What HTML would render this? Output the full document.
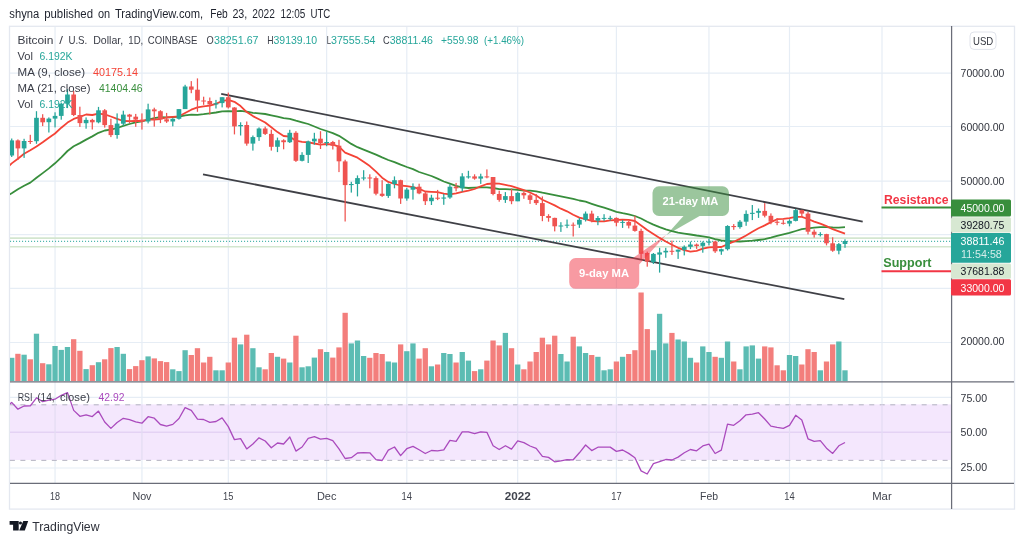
<!DOCTYPE html>
<html><head><meta charset="utf-8"><title>BTCUSD</title>
<style>
html,body{margin:0;padding:0;background:#fff;}
body{width:1024px;height:543px;overflow:hidden;position:relative;font-family:"Liberation Sans",sans-serif;}
svg{position:absolute;left:0;top:0;will-change:transform;}
text{font-family:"Liberation Sans",sans-serif;}
</style></head><body>
<svg width="1024" height="543" viewBox="0 0 1024 543">
<defs><clipPath id="cm"><rect x="10" y="27" width="941" height="354"/></clipPath>
<clipPath id="cr"><rect x="10" y="382" width="941" height="101"/></clipPath></defs>
<rect x="0" y="0" width="1024" height="543" fill="#ffffff"/>

<text x="9.3" y="18" font-size="12" fill="#1e222d" textLength="29.9" lengthAdjust="spacingAndGlyphs">shyna</text>
<text x="44.2" y="18" font-size="12" fill="#1e222d" textLength="48.8" lengthAdjust="spacingAndGlyphs">published</text>
<text x="98.0" y="18" font-size="12" fill="#1e222d" textLength="12.2" lengthAdjust="spacingAndGlyphs">on</text>
<text x="114.9" y="18" font-size="12" fill="#1e222d" textLength="88.3" lengthAdjust="spacingAndGlyphs">TradingView.com,</text>
<text x="210.2" y="18" font-size="12" fill="#1e222d" textLength="17.6" lengthAdjust="spacingAndGlyphs">Feb</text>
<text x="232.4" y="18" font-size="12" fill="#1e222d" textLength="14.9" lengthAdjust="spacingAndGlyphs">23,</text>
<text x="252.3" y="18" font-size="12" fill="#1e222d" textLength="22.6" lengthAdjust="spacingAndGlyphs">2022</text>
<text x="280.5" y="18" font-size="12" fill="#1e222d" textLength="24.9" lengthAdjust="spacingAndGlyphs">12:05</text>
<text x="310.4" y="18" font-size="12" fill="#1e222d" textLength="19.9" lengthAdjust="spacingAndGlyphs">UTC</text>
<rect x="9.5" y="26.3" width="1005" height="482.8" fill="#fff" stroke="#e4e8f0" stroke-width="1.3"/>
<g stroke="#e6edf5" stroke-width="1.2">
<line x1="55.05" y1="27" x2="55.05" y2="483"/>
<line x1="141.94" y1="27" x2="141.94" y2="483"/>
<line x1="228.30" y1="27" x2="228.30" y2="483"/>
<line x1="326.65" y1="27" x2="326.65" y2="483"/>
<line x1="406.80" y1="27" x2="406.80" y2="483"/>
<line x1="517.70" y1="27" x2="517.70" y2="483"/>
<line x1="616.40" y1="27" x2="616.40" y2="483"/>
<line x1="708.95" y1="27" x2="708.95" y2="483"/>
<line x1="789.50" y1="27" x2="789.50" y2="483"/>
<line x1="882.00" y1="27" x2="882.00" y2="483"/>
<line x1="10" y1="73.15" x2="951" y2="73.15"/>
<line x1="10" y1="126.50" x2="951" y2="126.50"/>
<line x1="10" y1="181.20" x2="951" y2="181.20"/>
<line x1="10" y1="234.70" x2="951" y2="234.70"/>
<line x1="10" y1="288.35" x2="951" y2="288.35"/>
<line x1="10" y1="342.50" x2="951" y2="342.50"/>
<line x1="10" y1="397.40" x2="951" y2="397.40"/>
<line x1="10" y1="432.20" x2="951" y2="432.20"/>
<line x1="10" y1="468.00" x2="951" y2="468.00"/>
</g>
<rect x="10" y="404.4" width="941" height="55.6" fill="#f4e7fd"/>
<line x1="9.9" y1="404.8" x2="951" y2="404.8" stroke="#b3b2c0" stroke-width="1" stroke-dasharray="5 5.48"/>
<line x1="9.9" y1="460.35" x2="951" y2="460.35" stroke="#b3b2c0" stroke-width="1" stroke-dasharray="5 5.48"/>
<line x1="10" y1="432.2" x2="951" y2="432.2" stroke="#dcc9f0" stroke-width="1"/>
<g stroke="#e3dcf3" stroke-width="1.2">
<line x1="55.05" y1="404.4" x2="55.05" y2="460.0"/>
<line x1="141.94" y1="404.4" x2="141.94" y2="460.0"/>
<line x1="228.30" y1="404.4" x2="228.30" y2="460.0"/>
<line x1="326.65" y1="404.4" x2="326.65" y2="460.0"/>
<line x1="406.80" y1="404.4" x2="406.80" y2="460.0"/>
<line x1="517.70" y1="404.4" x2="517.70" y2="460.0"/>
<line x1="616.40" y1="404.4" x2="616.40" y2="460.0"/>
<line x1="708.95" y1="404.4" x2="708.95" y2="460.0"/>
<line x1="789.50" y1="404.4" x2="789.50" y2="460.0"/>
<line x1="882.00" y1="404.4" x2="882.00" y2="460.0"/>
</g>
<g>
<line x1="10" y1="238.1" x2="951" y2="238.1" stroke="#d3e6cf" stroke-width="1.6"/>
<line x1="10" y1="246.8" x2="951" y2="246.8" stroke="#d3e6cf" stroke-width="1.6"/>
<line x1="10" y1="241.3" x2="951" y2="241.3" stroke="#26a69a" stroke-width="1" stroke-dasharray="1.1 1.9"/>
</g>
<g clip-path="url(#cm)">
<rect x="9.07" y="357.8" width="5.3" height="23.7" fill="#5cbcb3"/>
<rect x="15.26" y="353.8" width="5.3" height="27.7" fill="#f37e7c"/>
<rect x="21.45" y="354.7" width="5.3" height="26.8" fill="#5cbcb3"/>
<rect x="27.64" y="359.3" width="5.3" height="22.2" fill="#f37e7c"/>
<rect x="33.83" y="333.7" width="5.3" height="47.8" fill="#5cbcb3"/>
<rect x="40.02" y="363.2" width="5.3" height="18.3" fill="#f37e7c"/>
<rect x="46.21" y="364.3" width="5.3" height="17.2" fill="#5cbcb3"/>
<rect x="52.40" y="346.0" width="5.3" height="35.5" fill="#5cbcb3"/>
<rect x="58.61" y="349.9" width="5.3" height="31.6" fill="#5cbcb3"/>
<rect x="64.81" y="347.0" width="5.3" height="34.5" fill="#5cbcb3"/>
<rect x="71.02" y="339.2" width="5.3" height="42.3" fill="#f37e7c"/>
<rect x="77.23" y="350.8" width="5.3" height="30.7" fill="#f37e7c"/>
<rect x="83.43" y="369.1" width="5.3" height="12.4" fill="#5cbcb3"/>
<rect x="89.64" y="365.2" width="5.3" height="16.3" fill="#f37e7c"/>
<rect x="95.84" y="362.2" width="5.3" height="19.3" fill="#5cbcb3"/>
<rect x="102.05" y="359.3" width="5.3" height="22.2" fill="#f37e7c"/>
<rect x="108.26" y="348.1" width="5.3" height="33.4" fill="#f37e7c"/>
<rect x="114.46" y="347.0" width="5.3" height="34.5" fill="#5cbcb3"/>
<rect x="120.67" y="353.8" width="5.3" height="27.7" fill="#5cbcb3"/>
<rect x="126.88" y="369.1" width="5.3" height="12.4" fill="#f37e7c"/>
<rect x="133.08" y="366.1" width="5.3" height="15.4" fill="#f37e7c"/>
<rect x="139.29" y="360.2" width="5.3" height="21.3" fill="#f37e7c"/>
<rect x="145.46" y="356.4" width="5.3" height="25.1" fill="#5cbcb3"/>
<rect x="151.63" y="358.4" width="5.3" height="23.1" fill="#f37e7c"/>
<rect x="157.80" y="361.1" width="5.3" height="20.4" fill="#f37e7c"/>
<rect x="163.96" y="362.1" width="5.3" height="19.4" fill="#f37e7c"/>
<rect x="170.13" y="369.3" width="5.3" height="12.2" fill="#5cbcb3"/>
<rect x="176.30" y="371.1" width="5.3" height="10.4" fill="#5cbcb3"/>
<rect x="182.47" y="350.2" width="5.3" height="31.3" fill="#5cbcb3"/>
<rect x="188.64" y="355.0" width="5.3" height="26.5" fill="#f37e7c"/>
<rect x="194.81" y="348.2" width="5.3" height="33.3" fill="#f37e7c"/>
<rect x="200.98" y="362.5" width="5.3" height="19.0" fill="#f37e7c"/>
<rect x="207.14" y="356.8" width="5.3" height="24.7" fill="#f37e7c"/>
<rect x="213.31" y="370.3" width="5.3" height="11.2" fill="#5cbcb3"/>
<rect x="219.48" y="370.3" width="5.3" height="11.2" fill="#5cbcb3"/>
<rect x="225.65" y="362.5" width="5.3" height="19.0" fill="#f37e7c"/>
<rect x="231.80" y="337.7" width="5.3" height="43.8" fill="#f37e7c"/>
<rect x="237.94" y="344.4" width="5.3" height="37.1" fill="#5cbcb3"/>
<rect x="244.09" y="334.7" width="5.3" height="46.8" fill="#f37e7c"/>
<rect x="250.24" y="348.2" width="5.3" height="33.3" fill="#5cbcb3"/>
<rect x="256.38" y="367.3" width="5.3" height="14.2" fill="#5cbcb3"/>
<rect x="262.53" y="369.3" width="5.3" height="12.2" fill="#f37e7c"/>
<rect x="268.68" y="353.0" width="5.3" height="28.5" fill="#f37e7c"/>
<rect x="274.83" y="356.8" width="5.3" height="24.7" fill="#5cbcb3"/>
<rect x="280.97" y="358.6" width="5.3" height="22.9" fill="#f37e7c"/>
<rect x="287.12" y="362.5" width="5.3" height="19.0" fill="#5cbcb3"/>
<rect x="293.27" y="335.7" width="5.3" height="45.8" fill="#f37e7c"/>
<rect x="299.41" y="367.3" width="5.3" height="14.2" fill="#5cbcb3"/>
<rect x="305.56" y="366.3" width="5.3" height="15.2" fill="#5cbcb3"/>
<rect x="311.71" y="357.6" width="5.3" height="23.9" fill="#5cbcb3"/>
<rect x="317.85" y="349.2" width="5.3" height="32.3" fill="#f37e7c"/>
<rect x="324.00" y="352.0" width="5.3" height="29.5" fill="#5cbcb3"/>
<rect x="330.17" y="357.6" width="5.3" height="23.9" fill="#f37e7c"/>
<rect x="336.33" y="347.4" width="5.3" height="34.1" fill="#f37e7c"/>
<rect x="342.50" y="312.8" width="5.3" height="68.7" fill="#f37e7c"/>
<rect x="348.66" y="343.4" width="5.3" height="38.1" fill="#5cbcb3"/>
<rect x="354.83" y="340.5" width="5.3" height="41.0" fill="#5cbcb3"/>
<rect x="360.99" y="356.0" width="5.3" height="25.5" fill="#5cbcb3"/>
<rect x="367.16" y="357.8" width="5.3" height="23.7" fill="#f37e7c"/>
<rect x="373.32" y="353.0" width="5.3" height="28.5" fill="#f37e7c"/>
<rect x="379.49" y="354.0" width="5.3" height="27.5" fill="#f37e7c"/>
<rect x="385.65" y="361.5" width="5.3" height="20.0" fill="#5cbcb3"/>
<rect x="391.82" y="362.5" width="5.3" height="19.0" fill="#5cbcb3"/>
<rect x="397.98" y="344.4" width="5.3" height="37.1" fill="#f37e7c"/>
<rect x="404.15" y="351.2" width="5.3" height="30.3" fill="#5cbcb3"/>
<rect x="410.31" y="343.4" width="5.3" height="38.1" fill="#5cbcb3"/>
<rect x="416.47" y="358.6" width="5.3" height="22.9" fill="#f37e7c"/>
<rect x="422.63" y="348.2" width="5.3" height="33.3" fill="#f37e7c"/>
<rect x="428.79" y="366.3" width="5.3" height="15.2" fill="#5cbcb3"/>
<rect x="434.96" y="364.5" width="5.3" height="17.0" fill="#f37e7c"/>
<rect x="441.12" y="353.0" width="5.3" height="28.5" fill="#5cbcb3"/>
<rect x="447.28" y="354.0" width="5.3" height="27.5" fill="#5cbcb3"/>
<rect x="453.44" y="362.5" width="5.3" height="19.0" fill="#f37e7c"/>
<rect x="459.60" y="352.0" width="5.3" height="29.5" fill="#5cbcb3"/>
<rect x="465.76" y="360.6" width="5.3" height="20.9" fill="#5cbcb3"/>
<rect x="471.92" y="371.1" width="5.3" height="10.4" fill="#f37e7c"/>
<rect x="478.08" y="369.3" width="5.3" height="12.2" fill="#5cbcb3"/>
<rect x="484.24" y="360.6" width="5.3" height="20.9" fill="#f37e7c"/>
<rect x="490.41" y="340.5" width="5.3" height="41.0" fill="#f37e7c"/>
<rect x="496.57" y="345.4" width="5.3" height="36.1" fill="#f37e7c"/>
<rect x="502.73" y="332.9" width="5.3" height="48.6" fill="#5cbcb3"/>
<rect x="508.89" y="348.2" width="5.3" height="33.3" fill="#f37e7c"/>
<rect x="515.05" y="364.5" width="5.3" height="17.0" fill="#5cbcb3"/>
<rect x="521.22" y="369.3" width="5.3" height="12.2" fill="#f37e7c"/>
<rect x="527.39" y="361.5" width="5.3" height="20.0" fill="#f37e7c"/>
<rect x="533.56" y="352.0" width="5.3" height="29.5" fill="#f37e7c"/>
<rect x="539.73" y="337.7" width="5.3" height="43.8" fill="#f37e7c"/>
<rect x="545.89" y="344.4" width="5.3" height="37.1" fill="#f37e7c"/>
<rect x="552.06" y="335.7" width="5.3" height="45.8" fill="#f37e7c"/>
<rect x="558.23" y="354.0" width="5.3" height="27.5" fill="#5cbcb3"/>
<rect x="564.40" y="361.5" width="5.3" height="20.0" fill="#5cbcb3"/>
<rect x="570.57" y="336.7" width="5.3" height="44.8" fill="#f37e7c"/>
<rect x="576.74" y="346.4" width="5.3" height="35.1" fill="#5cbcb3"/>
<rect x="582.91" y="353.0" width="5.3" height="28.5" fill="#5cbcb3"/>
<rect x="589.08" y="355.0" width="5.3" height="26.5" fill="#f37e7c"/>
<rect x="595.24" y="356.8" width="5.3" height="24.7" fill="#5cbcb3"/>
<rect x="601.41" y="370.3" width="5.3" height="11.2" fill="#5cbcb3"/>
<rect x="607.58" y="369.3" width="5.3" height="12.2" fill="#5cbcb3"/>
<rect x="613.75" y="361.5" width="5.3" height="20.0" fill="#f37e7c"/>
<rect x="619.92" y="356.8" width="5.3" height="24.7" fill="#5cbcb3"/>
<rect x="626.09" y="354.0" width="5.3" height="27.5" fill="#f37e7c"/>
<rect x="632.26" y="350.2" width="5.3" height="31.3" fill="#f37e7c"/>
<rect x="638.43" y="292.5" width="5.3" height="89.0" fill="#f37e7c"/>
<rect x="644.60" y="329.1" width="5.3" height="52.4" fill="#f37e7c"/>
<rect x="650.77" y="350.2" width="5.3" height="31.3" fill="#5cbcb3"/>
<rect x="656.94" y="313.8" width="5.3" height="67.7" fill="#5cbcb3"/>
<rect x="663.11" y="343.4" width="5.3" height="38.1" fill="#5cbcb3"/>
<rect x="669.28" y="332.9" width="5.3" height="48.6" fill="#f37e7c"/>
<rect x="675.45" y="339.5" width="5.3" height="42.0" fill="#5cbcb3"/>
<rect x="681.62" y="341.5" width="5.3" height="40.0" fill="#5cbcb3"/>
<rect x="687.79" y="357.8" width="5.3" height="23.7" fill="#5cbcb3"/>
<rect x="693.96" y="362.5" width="5.3" height="19.0" fill="#f37e7c"/>
<rect x="700.13" y="346.4" width="5.3" height="35.1" fill="#5cbcb3"/>
<rect x="706.30" y="352.0" width="5.3" height="29.5" fill="#5cbcb3"/>
<rect x="712.50" y="356.8" width="5.3" height="24.7" fill="#f37e7c"/>
<rect x="718.69" y="357.8" width="5.3" height="23.7" fill="#5cbcb3"/>
<rect x="724.89" y="341.5" width="5.3" height="40.0" fill="#5cbcb3"/>
<rect x="731.08" y="361.5" width="5.3" height="20.0" fill="#f37e7c"/>
<rect x="737.28" y="369.3" width="5.3" height="12.2" fill="#5cbcb3"/>
<rect x="743.48" y="346.4" width="5.3" height="35.1" fill="#5cbcb3"/>
<rect x="749.67" y="345.4" width="5.3" height="36.1" fill="#5cbcb3"/>
<rect x="755.87" y="358.6" width="5.3" height="22.9" fill="#5cbcb3"/>
<rect x="762.07" y="346.4" width="5.3" height="35.1" fill="#f37e7c"/>
<rect x="768.26" y="347.4" width="5.3" height="34.1" fill="#f37e7c"/>
<rect x="774.46" y="365.3" width="5.3" height="16.2" fill="#f37e7c"/>
<rect x="780.65" y="370.3" width="5.3" height="11.2" fill="#f37e7c"/>
<rect x="786.85" y="355.0" width="5.3" height="26.5" fill="#5cbcb3"/>
<rect x="793.02" y="356.0" width="5.3" height="25.5" fill="#5cbcb3"/>
<rect x="799.18" y="364.5" width="5.3" height="17.0" fill="#f37e7c"/>
<rect x="805.35" y="349.2" width="5.3" height="32.3" fill="#f37e7c"/>
<rect x="811.52" y="352.0" width="5.3" height="29.5" fill="#f37e7c"/>
<rect x="817.68" y="370.3" width="5.3" height="11.2" fill="#5cbcb3"/>
<rect x="823.85" y="361.5" width="5.3" height="20.0" fill="#f37e7c"/>
<rect x="830.02" y="344.4" width="5.3" height="37.1" fill="#f37e7c"/>
<rect x="836.18" y="341.5" width="5.3" height="40.0" fill="#5cbcb3"/>
<rect x="842.35" y="370.3" width="5.3" height="11.2" fill="#5cbcb3"/>
</g>
<g stroke="#3f4046" stroke-width="1.8" stroke-linecap="butt" clip-path="url(#cm)">
<line x1="221.2" y1="93.8" x2="862.7" y2="221.6"/>
<line x1="203" y1="174.3" x2="844.3" y2="299.2"/>
</g>
<g fill="none" stroke-width="1.8" stroke-linejoin="round" clip-path="url(#cm)">
<path d="M5.5 197.0 L11.7 193.3 L17.9 189.3 L24.1 185.8 L30.3 182.6 L36.5 177.8 L42.7 173.1 L48.9 168.4 L55.0 163.3 L61.3 157.3 L67.5 151.0 L73.7 146.3 L79.9 143.1 L86.1 139.6 L92.3 136.4 L98.5 132.8 L104.7 130.5 L110.9 129.7 L117.1 128.0 L123.3 125.8 L129.5 124.0 L135.7 122.3 L141.9 121.4 L148.1 119.6 L154.3 118.2 L160.4 117.1 L166.6 117.3 L172.8 117.1 L179.0 116.7 L185.1 115.3 L191.3 114.6 L197.5 114.9 L203.6 114.2 L209.8 113.3 L216.0 112.5 L222.1 111.3 L228.3 111.2 L234.4 111.3 L240.6 110.8 L246.7 111.7 L252.9 112.8 L259.0 113.4 L265.2 114.0 L271.3 115.3 L277.5 116.7 L283.6 118.2 L289.8 118.8 L295.9 120.7 L302.1 122.4 L308.2 124.0 L314.4 126.5 L320.5 129.0 L326.6 131.0 L332.8 133.1 L339.0 135.8 L345.1 139.7 L351.3 143.9 L357.5 147.2 L363.6 149.7 L369.8 152.2 L376.0 154.6 L382.1 157.4 L388.3 160.0 L394.5 162.2 L400.6 164.7 L406.8 167.0 L413.0 169.1 L419.1 172.0 L425.3 174.0 L431.4 176.0 L437.6 178.7 L443.8 181.5 L449.9 183.6 L456.1 185.8 L462.2 187.3 L468.4 188.0 L474.6 187.7 L480.7 187.3 L486.9 187.3 L493.1 188.0 L499.2 189.1 L505.4 189.2 L511.5 189.4 L517.7 189.9 L523.9 190.6 L530.0 190.7 L536.2 191.3 L542.4 192.7 L548.5 193.9 L554.7 195.1 L560.9 196.4 L567.0 197.6 L573.2 198.9 L579.4 200.5 L585.6 201.7 L591.7 203.8 L597.9 205.8 L604.1 207.7 L610.2 209.6 L616.4 211.8 L622.6 213.2 L628.7 214.4 L634.9 216.0 L641.1 218.5 L647.2 221.8 L653.4 224.6 L659.6 227.1 L665.8 229.4 L671.9 231.1 L678.1 232.6 L684.3 233.6 L690.4 234.5 L696.6 235.5 L702.8 236.3 L709.0 237.4 L715.1 239.2 L721.3 240.5 L727.5 240.9 L733.7 241.3 L739.9 241.5 L746.1 241.1 L752.3 240.7 L758.5 240.0 L764.7 239.2 L770.9 237.7 L777.1 235.9 L783.3 234.4 L789.5 232.9 L795.7 231.0 L801.8 229.2 L808.0 228.3 L814.2 227.7 L820.3 227.2 L826.5 227.1 L832.7 227.5 L838.8 227.6 L845.0 227.1" stroke="#388e3c"/>
<path d="M5.5 169.3 L11.7 163.4 L17.9 158.7 L24.1 153.8 L30.3 150.3 L36.5 146.5 L42.7 142.3 L48.9 137.7 L55.0 133.5 L61.3 127.7 L67.5 122.6 L73.7 118.9 L79.9 116.9 L86.1 114.5 L92.3 115.0 L98.5 113.7 L104.7 114.4 L110.9 116.5 L117.1 118.8 L123.3 121.0 L129.5 121.2 L135.7 120.8 L141.9 121.0 L148.1 119.5 L154.3 119.6 L160.4 119.0 L166.6 117.5 L172.8 116.9 L179.0 116.3 L185.1 113.0 L191.3 109.7 L197.5 107.3 L203.6 106.4 L209.8 105.6 L216.0 103.8 L222.1 101.1 L228.3 99.9 L234.4 101.8 L240.6 106.1 L246.7 112.1 L252.9 116.1 L259.0 119.2 L265.2 122.5 L271.3 127.3 L277.5 132.1 L283.6 136.0 L289.8 136.7 L295.9 140.7 L302.1 141.9 L308.2 142.4 L314.4 143.5 L320.5 144.6 L326.6 144.0 L332.8 144.6 L339.0 146.7 L345.1 152.6 L351.3 155.1 L357.5 157.7 L363.6 161.7 L369.8 166.1 L376.0 171.7 L382.1 177.7 L388.3 181.9 L394.5 184.0 L400.6 185.5 L406.8 186.2 L413.0 187.1 L419.1 188.9 L425.3 191.5 L431.4 191.9 L437.6 192.2 L443.8 193.7 L449.9 194.4 L456.1 193.3 L462.2 191.8 L468.4 190.7 L474.6 189.0 L480.7 186.3 L486.9 184.0 L493.1 183.5 L499.2 183.7 L505.4 184.8 L511.5 186.2 L517.7 188.1 L523.9 190.1 L530.0 192.5 L536.2 195.5 L542.4 199.8 L548.5 202.5 L554.7 205.4 L560.9 208.7 L567.0 211.3 L573.2 214.8 L579.4 217.6 L585.6 219.1 L591.7 221.0 L597.9 221.3 L604.1 221.3 L610.2 220.3 L616.4 220.0 L622.6 219.7 L628.7 219.8 L634.9 221.0 L641.1 225.5 L647.2 230.0 L653.4 234.0 L659.6 237.9 L665.8 241.5 L671.9 244.7 L678.1 247.8 L684.3 250.2 L690.4 251.7 L696.6 250.8 L702.8 248.7 L709.0 247.3 L715.1 247.2 L721.3 247.0 L727.5 244.2 L733.7 241.7 L739.9 238.9 L746.1 235.5 L752.3 231.8 L758.5 228.3 L764.7 225.4 L770.9 222.1 L777.1 219.2 L783.3 218.9 L789.5 218.2 L795.7 216.9 L801.8 216.9 L808.0 219.0 L814.2 221.6 L820.3 223.7 L826.5 226.1 L832.7 229.2 L838.8 231.4 L845.0 233.7" stroke="#f44336"/>
</g>
<g clip-path="url(#cm)">
<rect x="11.09" y="138.5" width="1.25" height="18.5" fill="#26a69a"/>
<rect x="9.37" y="140.4" width="4.7" height="15.1" fill="#26a69a"/>
<rect x="17.28" y="139.4" width="1.25" height="20.5" fill="#ef5350"/>
<rect x="15.56" y="140.4" width="4.7" height="8.0" fill="#ef5350"/>
<rect x="23.47" y="138.8" width="1.25" height="19.1" fill="#26a69a"/>
<rect x="21.75" y="141.0" width="4.7" height="7.4" fill="#26a69a"/>
<rect x="29.66" y="134.8" width="1.25" height="9.2" fill="#ef5350"/>
<rect x="27.94" y="141.0" width="4.7" height="1.0" fill="#ef5350"/>
<rect x="35.85" y="111.2" width="1.25" height="32.6" fill="#26a69a"/>
<rect x="34.13" y="117.8" width="4.7" height="23.4" fill="#26a69a"/>
<rect x="42.04" y="114.2" width="1.25" height="11.9" fill="#ef5350"/>
<rect x="40.32" y="117.8" width="4.7" height="4.5" fill="#ef5350"/>
<rect x="48.23" y="117.4" width="1.25" height="15.1" fill="#26a69a"/>
<rect x="46.51" y="118.6" width="4.7" height="3.6" fill="#26a69a"/>
<rect x="54.42" y="112.3" width="1.25" height="15.1" fill="#26a69a"/>
<rect x="52.70" y="115.9" width="4.7" height="2.7" fill="#26a69a"/>
<rect x="60.63" y="102.6" width="1.25" height="17.1" fill="#26a69a"/>
<rect x="58.91" y="103.7" width="4.7" height="12.2" fill="#26a69a"/>
<rect x="66.84" y="89.2" width="1.25" height="18.9" fill="#26a69a"/>
<rect x="65.11" y="94.5" width="4.7" height="9.2" fill="#26a69a"/>
<rect x="73.04" y="91.0" width="1.25" height="25.1" fill="#ef5350"/>
<rect x="71.32" y="94.5" width="4.7" height="20.5" fill="#ef5350"/>
<rect x="79.25" y="106.7" width="1.25" height="20.2" fill="#ef5350"/>
<rect x="77.53" y="115.0" width="4.7" height="8.1" fill="#ef5350"/>
<rect x="85.46" y="117.4" width="1.25" height="11.3" fill="#26a69a"/>
<rect x="83.73" y="119.9" width="4.7" height="3.3" fill="#26a69a"/>
<rect x="91.66" y="118.8" width="1.25" height="10.7" fill="#ef5350"/>
<rect x="89.94" y="119.9" width="4.7" height="2.4" fill="#ef5350"/>
<rect x="97.87" y="106.9" width="1.25" height="16.4" fill="#26a69a"/>
<rect x="96.15" y="110.3" width="4.7" height="12.0" fill="#26a69a"/>
<rect x="104.08" y="109.1" width="1.25" height="18.5" fill="#ef5350"/>
<rect x="102.35" y="110.3" width="4.7" height="14.8" fill="#ef5350"/>
<rect x="110.28" y="118.8" width="1.25" height="18.3" fill="#ef5350"/>
<rect x="108.56" y="125.1" width="4.7" height="10.0" fill="#ef5350"/>
<rect x="116.49" y="113.4" width="1.25" height="25.3" fill="#26a69a"/>
<rect x="114.76" y="123.6" width="4.7" height="11.4" fill="#26a69a"/>
<rect x="122.70" y="110.7" width="1.25" height="15.1" fill="#26a69a"/>
<rect x="120.97" y="114.6" width="4.7" height="9.1" fill="#26a69a"/>
<rect x="128.90" y="113.9" width="1.25" height="9.2" fill="#ef5350"/>
<rect x="127.18" y="114.6" width="4.7" height="2.1" fill="#ef5350"/>
<rect x="135.11" y="113.9" width="1.25" height="12.9" fill="#ef5350"/>
<rect x="133.38" y="116.7" width="4.7" height="2.9" fill="#ef5350"/>
<rect x="141.31" y="113.4" width="1.25" height="16.2" fill="#ef5350"/>
<rect x="139.59" y="119.6" width="4.7" height="1.9" fill="#ef5350"/>
<rect x="147.48" y="103.7" width="1.25" height="19.7" fill="#26a69a"/>
<rect x="145.76" y="109.4" width="4.7" height="12.1" fill="#26a69a"/>
<rect x="153.65" y="107.7" width="1.25" height="18.9" fill="#ef5350"/>
<rect x="151.93" y="109.4" width="4.7" height="1.9" fill="#ef5350"/>
<rect x="159.82" y="110.2" width="1.25" height="12.9" fill="#ef5350"/>
<rect x="158.10" y="111.2" width="4.7" height="8.1" fill="#ef5350"/>
<rect x="165.99" y="112.9" width="1.25" height="10.0" fill="#ef5350"/>
<rect x="164.26" y="119.3" width="4.7" height="2.2" fill="#ef5350"/>
<rect x="172.16" y="118.2" width="1.25" height="8.1" fill="#26a69a"/>
<rect x="170.43" y="118.8" width="4.7" height="2.7" fill="#26a69a"/>
<rect x="178.33" y="109.1" width="1.25" height="10.5" fill="#26a69a"/>
<rect x="176.60" y="109.1" width="4.7" height="9.7" fill="#26a69a"/>
<rect x="184.50" y="84.8" width="1.25" height="24.2" fill="#26a69a"/>
<rect x="182.77" y="86.5" width="4.7" height="22.6" fill="#26a69a"/>
<rect x="190.66" y="81.1" width="1.25" height="12.1" fill="#ef5350"/>
<rect x="188.94" y="86.5" width="4.7" height="3.2" fill="#ef5350"/>
<rect x="196.83" y="78.4" width="1.25" height="33.4" fill="#ef5350"/>
<rect x="195.11" y="89.7" width="4.7" height="10.8" fill="#ef5350"/>
<rect x="203.00" y="96.7" width="1.25" height="8.1" fill="#ef5350"/>
<rect x="201.28" y="100.5" width="4.7" height="1.0" fill="#ef5350"/>
<rect x="209.17" y="97.5" width="1.25" height="17.0" fill="#ef5350"/>
<rect x="207.44" y="101.0" width="4.7" height="3.5" fill="#ef5350"/>
<rect x="215.34" y="99.9" width="1.25" height="8.6" fill="#26a69a"/>
<rect x="213.61" y="103.2" width="4.7" height="1.3" fill="#26a69a"/>
<rect x="221.51" y="97.2" width="1.25" height="10.2" fill="#26a69a"/>
<rect x="219.78" y="97.2" width="4.7" height="5.9" fill="#26a69a"/>
<rect x="227.68" y="92.6" width="1.25" height="15.9" fill="#ef5350"/>
<rect x="225.95" y="97.2" width="4.7" height="10.2" fill="#ef5350"/>
<rect x="233.82" y="107.2" width="1.25" height="27.2" fill="#ef5350"/>
<rect x="232.10" y="107.5" width="4.7" height="18.9" fill="#ef5350"/>
<rect x="239.97" y="122.3" width="1.25" height="13.2" fill="#26a69a"/>
<rect x="238.24" y="125.0" width="4.7" height="1.3" fill="#26a69a"/>
<rect x="246.12" y="121.5" width="1.25" height="24.2" fill="#ef5350"/>
<rect x="244.39" y="125.0" width="4.7" height="18.6" fill="#ef5350"/>
<rect x="252.26" y="135.5" width="1.25" height="15.1" fill="#26a69a"/>
<rect x="250.54" y="137.1" width="4.7" height="6.5" fill="#26a69a"/>
<rect x="258.41" y="127.4" width="1.25" height="13.5" fill="#26a69a"/>
<rect x="256.68" y="128.5" width="4.7" height="8.6" fill="#26a69a"/>
<rect x="264.56" y="126.6" width="1.25" height="8.4" fill="#ef5350"/>
<rect x="262.83" y="128.5" width="4.7" height="5.4" fill="#ef5350"/>
<rect x="270.70" y="129.6" width="1.25" height="21.0" fill="#ef5350"/>
<rect x="268.98" y="133.9" width="4.7" height="12.9" fill="#ef5350"/>
<rect x="276.85" y="137.6" width="1.25" height="14.5" fill="#26a69a"/>
<rect x="275.12" y="140.3" width="4.7" height="6.5" fill="#26a69a"/>
<rect x="283.00" y="139.3" width="1.25" height="10.0" fill="#ef5350"/>
<rect x="281.27" y="140.3" width="4.7" height="1.9" fill="#ef5350"/>
<rect x="289.14" y="129.8" width="1.25" height="13.2" fill="#26a69a"/>
<rect x="287.42" y="132.8" width="4.7" height="9.4" fill="#26a69a"/>
<rect x="295.29" y="131.2" width="1.25" height="30.7" fill="#ef5350"/>
<rect x="293.57" y="132.8" width="4.7" height="28.0" fill="#ef5350"/>
<rect x="301.44" y="152.2" width="1.25" height="9.2" fill="#26a69a"/>
<rect x="299.71" y="154.9" width="4.7" height="5.9" fill="#26a69a"/>
<rect x="307.58" y="140.6" width="1.25" height="22.4" fill="#26a69a"/>
<rect x="305.86" y="141.4" width="4.7" height="13.5" fill="#26a69a"/>
<rect x="313.73" y="132.8" width="1.25" height="11.9" fill="#26a69a"/>
<rect x="312.01" y="138.7" width="4.7" height="2.7" fill="#26a69a"/>
<rect x="319.88" y="131.2" width="1.25" height="17.8" fill="#ef5350"/>
<rect x="318.15" y="138.7" width="4.7" height="4.3" fill="#ef5350"/>
<rect x="326.02" y="131.7" width="1.25" height="14.5" fill="#26a69a"/>
<rect x="324.30" y="142.0" width="4.7" height="1.1" fill="#26a69a"/>
<rect x="332.19" y="140.9" width="1.25" height="8.6" fill="#ef5350"/>
<rect x="330.47" y="142.0" width="4.7" height="3.8" fill="#ef5350"/>
<rect x="338.36" y="139.8" width="1.25" height="32.3" fill="#ef5350"/>
<rect x="336.63" y="145.7" width="4.7" height="15.6" fill="#ef5350"/>
<rect x="344.52" y="159.7" width="1.25" height="61.8" fill="#ef5350"/>
<rect x="342.80" y="161.4" width="4.7" height="23.7" fill="#ef5350"/>
<rect x="350.69" y="181.8" width="1.25" height="10.8" fill="#26a69a"/>
<rect x="348.96" y="184.0" width="4.7" height="1.1" fill="#26a69a"/>
<rect x="356.85" y="175.4" width="1.25" height="21.0" fill="#26a69a"/>
<rect x="355.13" y="178.1" width="4.7" height="5.9" fill="#26a69a"/>
<rect x="363.02" y="170.2" width="1.25" height="10.2" fill="#26a69a"/>
<rect x="361.29" y="177.5" width="4.7" height="1.0" fill="#26a69a"/>
<rect x="369.18" y="174.3" width="1.25" height="14.0" fill="#ef5350"/>
<rect x="367.46" y="177.5" width="4.7" height="1.0" fill="#ef5350"/>
<rect x="375.35" y="176.4" width="1.25" height="18.9" fill="#ef5350"/>
<rect x="373.62" y="178.1" width="4.7" height="15.6" fill="#ef5350"/>
<rect x="381.51" y="180.2" width="1.25" height="16.7" fill="#ef5350"/>
<rect x="379.79" y="193.7" width="4.7" height="2.2" fill="#ef5350"/>
<rect x="387.68" y="183.4" width="1.25" height="14.5" fill="#26a69a"/>
<rect x="385.95" y="184.0" width="4.7" height="11.9" fill="#26a69a"/>
<rect x="393.84" y="176.4" width="1.25" height="11.9" fill="#26a69a"/>
<rect x="392.12" y="180.2" width="4.7" height="3.8" fill="#26a69a"/>
<rect x="400.01" y="179.7" width="1.25" height="24.2" fill="#ef5350"/>
<rect x="398.28" y="180.2" width="4.7" height="18.3" fill="#ef5350"/>
<rect x="406.18" y="187.8" width="1.25" height="12.9" fill="#26a69a"/>
<rect x="404.45" y="189.6" width="4.7" height="8.9" fill="#26a69a"/>
<rect x="412.34" y="183.4" width="1.25" height="16.2" fill="#26a69a"/>
<rect x="410.61" y="186.7" width="4.7" height="3.0" fill="#26a69a"/>
<rect x="418.50" y="183.7" width="1.25" height="10.5" fill="#ef5350"/>
<rect x="416.77" y="186.7" width="4.7" height="6.7" fill="#ef5350"/>
<rect x="424.66" y="191.5" width="1.25" height="13.5" fill="#ef5350"/>
<rect x="422.93" y="193.4" width="4.7" height="7.8" fill="#ef5350"/>
<rect x="430.82" y="194.8" width="1.25" height="10.2" fill="#26a69a"/>
<rect x="429.09" y="197.7" width="4.7" height="3.5" fill="#26a69a"/>
<rect x="436.98" y="189.9" width="1.25" height="10.2" fill="#ef5350"/>
<rect x="435.26" y="197.7" width="4.7" height="1.0" fill="#ef5350"/>
<rect x="443.14" y="194.0" width="1.25" height="10.8" fill="#26a69a"/>
<rect x="441.42" y="197.5" width="4.7" height="1.1" fill="#26a69a"/>
<rect x="449.30" y="184.3" width="1.25" height="14.5" fill="#26a69a"/>
<rect x="447.58" y="186.7" width="4.7" height="10.8" fill="#26a69a"/>
<rect x="455.46" y="182.9" width="1.25" height="8.4" fill="#ef5350"/>
<rect x="453.74" y="186.7" width="4.7" height="1.6" fill="#ef5350"/>
<rect x="461.62" y="173.2" width="1.25" height="18.3" fill="#26a69a"/>
<rect x="459.90" y="176.4" width="4.7" height="11.9" fill="#26a69a"/>
<rect x="467.79" y="170.8" width="1.25" height="7.8" fill="#26a69a"/>
<rect x="466.06" y="176.4" width="4.7" height="1.0" fill="#26a69a"/>
<rect x="473.95" y="174.3" width="1.25" height="5.4" fill="#ef5350"/>
<rect x="472.22" y="176.4" width="4.7" height="2.2" fill="#ef5350"/>
<rect x="480.11" y="173.7" width="1.25" height="10.2" fill="#26a69a"/>
<rect x="478.38" y="176.4" width="4.7" height="2.2" fill="#26a69a"/>
<rect x="486.27" y="169.4" width="1.25" height="8.9" fill="#ef5350"/>
<rect x="484.54" y="176.4" width="4.7" height="1.0" fill="#ef5350"/>
<rect x="492.43" y="177.0" width="1.25" height="18.3" fill="#ef5350"/>
<rect x="490.71" y="177.0" width="4.7" height="17.0" fill="#ef5350"/>
<rect x="498.59" y="190.7" width="1.25" height="11.0" fill="#ef5350"/>
<rect x="496.87" y="194.0" width="4.7" height="5.9" fill="#ef5350"/>
<rect x="504.75" y="192.1" width="1.25" height="10.8" fill="#26a69a"/>
<rect x="503.03" y="196.1" width="4.7" height="3.8" fill="#26a69a"/>
<rect x="510.91" y="188.6" width="1.25" height="15.6" fill="#ef5350"/>
<rect x="509.19" y="196.1" width="4.7" height="5.1" fill="#ef5350"/>
<rect x="517.08" y="191.8" width="1.25" height="9.4" fill="#26a69a"/>
<rect x="515.35" y="192.9" width="4.7" height="8.4" fill="#26a69a"/>
<rect x="523.24" y="191.5" width="1.25" height="7.3" fill="#ef5350"/>
<rect x="521.52" y="192.9" width="4.7" height="2.4" fill="#ef5350"/>
<rect x="529.41" y="193.7" width="1.25" height="10.2" fill="#ef5350"/>
<rect x="527.69" y="195.3" width="4.7" height="4.6" fill="#ef5350"/>
<rect x="535.58" y="194.0" width="1.25" height="11.0" fill="#ef5350"/>
<rect x="533.86" y="199.9" width="4.7" height="3.2" fill="#ef5350"/>
<rect x="541.75" y="196.4" width="1.25" height="24.8" fill="#ef5350"/>
<rect x="540.02" y="203.1" width="4.7" height="12.9" fill="#ef5350"/>
<rect x="547.92" y="214.2" width="1.25" height="7.5" fill="#ef5350"/>
<rect x="546.19" y="216.0" width="4.7" height="1.9" fill="#ef5350"/>
<rect x="554.09" y="217.7" width="1.25" height="13.7" fill="#ef5350"/>
<rect x="552.36" y="217.9" width="4.7" height="8.4" fill="#ef5350"/>
<rect x="560.26" y="222.2" width="1.25" height="9.7" fill="#26a69a"/>
<rect x="558.53" y="225.5" width="4.7" height="1.0" fill="#26a69a"/>
<rect x="566.42" y="219.5" width="1.25" height="8.6" fill="#26a69a"/>
<rect x="564.70" y="224.7" width="4.7" height="1.0" fill="#26a69a"/>
<rect x="572.59" y="222.5" width="1.25" height="14.0" fill="#ef5350"/>
<rect x="570.87" y="224.7" width="4.7" height="1.0" fill="#ef5350"/>
<rect x="578.76" y="217.9" width="1.25" height="10.0" fill="#26a69a"/>
<rect x="577.04" y="219.8" width="4.7" height="4.8" fill="#26a69a"/>
<rect x="584.93" y="211.5" width="1.25" height="10.0" fill="#26a69a"/>
<rect x="583.21" y="213.6" width="4.7" height="6.2" fill="#26a69a"/>
<rect x="591.10" y="210.7" width="1.25" height="11.6" fill="#ef5350"/>
<rect x="589.38" y="213.6" width="4.7" height="7.1" fill="#ef5350"/>
<rect x="597.27" y="216.0" width="1.25" height="9.2" fill="#26a69a"/>
<rect x="595.54" y="218.0" width="4.7" height="2.7" fill="#26a69a"/>
<rect x="603.44" y="214.2" width="1.25" height="6.7" fill="#26a69a"/>
<rect x="601.71" y="217.9" width="4.7" height="1.0" fill="#26a69a"/>
<rect x="609.61" y="215.8" width="1.25" height="4.8" fill="#26a69a"/>
<rect x="607.88" y="217.9" width="4.7" height="1.0" fill="#26a69a"/>
<rect x="615.77" y="217.4" width="1.25" height="8.9" fill="#ef5350"/>
<rect x="614.05" y="217.9" width="4.7" height="4.8" fill="#ef5350"/>
<rect x="621.94" y="220.1" width="1.25" height="7.8" fill="#26a69a"/>
<rect x="620.22" y="221.9" width="4.7" height="1.0" fill="#26a69a"/>
<rect x="628.12" y="220.9" width="1.25" height="7.5" fill="#ef5350"/>
<rect x="626.39" y="221.9" width="4.7" height="3.7" fill="#ef5350"/>
<rect x="634.28" y="215.8" width="1.25" height="15.9" fill="#ef5350"/>
<rect x="632.56" y="225.6" width="4.7" height="5.3" fill="#ef5350"/>
<rect x="640.46" y="228.7" width="1.25" height="30.4" fill="#ef5350"/>
<rect x="638.73" y="230.9" width="4.7" height="22.9" fill="#ef5350"/>
<rect x="646.62" y="251.6" width="1.25" height="15.1" fill="#ef5350"/>
<rect x="644.90" y="253.0" width="4.7" height="8.6" fill="#ef5350"/>
<rect x="652.79" y="253.0" width="1.25" height="11.0" fill="#26a69a"/>
<rect x="651.07" y="253.9" width="4.7" height="8.2" fill="#26a69a"/>
<rect x="658.97" y="247.8" width="1.25" height="24.8" fill="#26a69a"/>
<rect x="657.24" y="252.4" width="4.7" height="2.2" fill="#26a69a"/>
<rect x="665.13" y="247.8" width="1.25" height="10.0" fill="#26a69a"/>
<rect x="663.41" y="250.8" width="4.7" height="1.6" fill="#26a69a"/>
<rect x="671.31" y="240.6" width="1.25" height="14.3" fill="#ef5350"/>
<rect x="669.58" y="250.8" width="4.7" height="1.0" fill="#ef5350"/>
<rect x="677.48" y="249.5" width="1.25" height="9.4" fill="#26a69a"/>
<rect x="675.75" y="249.7" width="4.7" height="2.0" fill="#26a69a"/>
<rect x="683.64" y="245.4" width="1.25" height="10.0" fill="#26a69a"/>
<rect x="681.92" y="246.8" width="4.7" height="3.0" fill="#26a69a"/>
<rect x="689.82" y="241.6" width="1.25" height="7.5" fill="#26a69a"/>
<rect x="688.09" y="244.5" width="4.7" height="2.3" fill="#26a69a"/>
<rect x="695.99" y="243.5" width="1.25" height="5.4" fill="#ef5350"/>
<rect x="694.26" y="244.5" width="4.7" height="1.5" fill="#ef5350"/>
<rect x="702.16" y="241.4" width="1.25" height="11.3" fill="#26a69a"/>
<rect x="700.43" y="242.7" width="4.7" height="3.2" fill="#26a69a"/>
<rect x="708.33" y="238.7" width="1.25" height="6.7" fill="#26a69a"/>
<rect x="706.60" y="241.5" width="4.7" height="1.2" fill="#26a69a"/>
<rect x="714.52" y="240.8" width="1.25" height="12.1" fill="#ef5350"/>
<rect x="712.80" y="241.5" width="4.7" height="9.8" fill="#ef5350"/>
<rect x="720.72" y="248.6" width="1.25" height="6.2" fill="#26a69a"/>
<rect x="718.99" y="249.2" width="4.7" height="2.2" fill="#26a69a"/>
<rect x="726.91" y="225.2" width="1.25" height="25.3" fill="#26a69a"/>
<rect x="725.19" y="226.0" width="4.7" height="23.2" fill="#26a69a"/>
<rect x="733.11" y="224.1" width="1.25" height="5.7" fill="#ef5350"/>
<rect x="731.38" y="226.0" width="4.7" height="1.1" fill="#ef5350"/>
<rect x="739.31" y="220.1" width="1.25" height="8.6" fill="#26a69a"/>
<rect x="737.58" y="221.7" width="4.7" height="5.4" fill="#26a69a"/>
<rect x="745.50" y="210.4" width="1.25" height="15.4" fill="#26a69a"/>
<rect x="743.78" y="213.9" width="4.7" height="7.8" fill="#26a69a"/>
<rect x="751.70" y="205.0" width="1.25" height="15.1" fill="#26a69a"/>
<rect x="749.97" y="212.8" width="4.7" height="1.1" fill="#26a69a"/>
<rect x="757.89" y="208.5" width="1.25" height="9.4" fill="#26a69a"/>
<rect x="756.17" y="210.9" width="4.7" height="1.9" fill="#26a69a"/>
<rect x="764.09" y="203.1" width="1.25" height="14.3" fill="#ef5350"/>
<rect x="762.37" y="210.9" width="4.7" height="4.8" fill="#ef5350"/>
<rect x="770.29" y="213.4" width="1.25" height="10.8" fill="#ef5350"/>
<rect x="768.56" y="215.8" width="4.7" height="5.9" fill="#ef5350"/>
<rect x="776.48" y="218.2" width="1.25" height="7.0" fill="#ef5350"/>
<rect x="774.76" y="221.7" width="4.7" height="1.1" fill="#ef5350"/>
<rect x="782.68" y="219.8" width="1.25" height="4.8" fill="#ef5350"/>
<rect x="780.95" y="222.8" width="4.7" height="1.0" fill="#ef5350"/>
<rect x="788.88" y="219.3" width="1.25" height="7.0" fill="#26a69a"/>
<rect x="787.15" y="220.9" width="4.7" height="2.7" fill="#26a69a"/>
<rect x="795.04" y="209.0" width="1.25" height="12.4" fill="#26a69a"/>
<rect x="793.32" y="210.1" width="4.7" height="10.8" fill="#26a69a"/>
<rect x="801.21" y="209.8" width="1.25" height="7.0" fill="#ef5350"/>
<rect x="799.48" y="210.1" width="4.7" height="3.5" fill="#ef5350"/>
<rect x="807.38" y="212.0" width="1.25" height="22.4" fill="#ef5350"/>
<rect x="805.65" y="213.6" width="4.7" height="18.1" fill="#ef5350"/>
<rect x="813.54" y="229.5" width="1.25" height="8.1" fill="#ef5350"/>
<rect x="811.82" y="231.7" width="4.7" height="3.0" fill="#ef5350"/>
<rect x="819.71" y="232.2" width="1.25" height="4.3" fill="#26a69a"/>
<rect x="817.98" y="234.1" width="4.7" height="1.0" fill="#26a69a"/>
<rect x="825.88" y="233.8" width="1.25" height="11.6" fill="#ef5350"/>
<rect x="824.15" y="234.1" width="4.7" height="9.2" fill="#ef5350"/>
<rect x="832.04" y="237.3" width="1.25" height="14.5" fill="#ef5350"/>
<rect x="830.32" y="243.3" width="4.7" height="7.4" fill="#ef5350"/>
<rect x="838.21" y="243.0" width="1.25" height="11.3" fill="#26a69a"/>
<rect x="836.48" y="244.1" width="4.7" height="6.6" fill="#26a69a"/>
<rect x="844.38" y="239.3" width="1.25" height="8.5" fill="#26a69a"/>
<rect x="842.65" y="241.0" width="4.7" height="3.0" fill="#26a69a"/>
</g>
<path d="M5.5 408.0 L11.7 402.4 L17.9 409.2 L24.1 406.0 L30.3 405.9 L36.5 397.8 L42.7 401.6 L48.9 400.2 L55.0 399.2 L61.3 395.3 L67.5 392.6 L73.7 410.4 L79.9 416.3 L86.1 414.8 L92.3 416.6 L98.5 411.1 L104.7 422.0 L110.9 428.4 L117.1 422.5 L123.3 418.3 L129.5 419.7 L135.7 421.8 L141.9 423.2 L148.1 416.7 L154.3 418.2 L160.4 424.5 L166.6 426.2 L172.8 424.4 L179.0 418.5 L185.1 407.6 L191.3 410.4 L197.5 419.1 L203.6 419.5 L209.8 422.4 L216.0 421.5 L222.1 417.9 L228.3 426.6 L234.4 439.6 L240.6 438.6 L246.7 448.9 L252.9 444.0 L259.0 437.8 L265.2 441.0 L271.3 447.8 L277.5 443.0 L283.6 444.0 L289.8 437.0 L295.9 451.1 L302.1 447.0 L308.2 438.3 L314.4 436.7 L320.5 439.1 L326.6 438.3 L332.8 440.6 L339.0 448.9 L345.1 458.5 L351.3 457.7 L357.5 453.0 L363.6 452.6 L369.8 452.8 L376.0 459.6 L382.1 460.5 L388.3 450.1 L394.5 447.0 L400.6 455.6 L406.8 448.7 L413.0 446.4 L419.1 449.8 L425.3 453.5 L431.4 450.5 L437.6 450.9 L443.8 449.9 L449.9 440.3 L456.1 441.4 L462.2 431.9 L468.4 431.9 L474.6 433.7 L480.7 431.8 L486.9 432.3 L493.1 445.7 L499.2 449.5 L505.4 445.7 L511.5 449.1 L517.7 440.8 L523.9 442.6 L530.0 446.0 L536.2 448.3 L542.4 456.3 L548.5 457.4 L554.7 461.8 L560.9 460.8 L567.0 459.7 L573.2 459.8 L579.4 452.8 L585.6 445.0 L591.7 450.6 L597.9 447.2 L604.1 447.1 L610.2 447.1 L616.4 451.4 L622.6 450.0 L628.7 453.4 L634.9 457.8 L641.1 470.9 L647.2 474.0 L653.4 463.6 L659.6 461.6 L665.8 459.5 L671.9 460.0 L678.1 457.1 L684.3 452.8 L690.4 449.5 L696.6 450.8 L702.8 445.9 L709.0 444.1 L715.1 453.5 L721.3 450.1 L727.5 424.2 L733.7 425.3 L739.9 420.8 L746.1 414.8 L752.3 414.1 L758.5 412.7 L764.7 419.0 L770.9 426.1 L777.1 427.4 L783.3 428.3 L789.5 425.4 L795.7 415.3 L801.8 420.0 L808.0 438.8 L814.2 441.3 L820.3 440.7 L826.5 448.2 L832.7 453.4 L838.8 445.8 L845.0 442.5" fill="none" stroke="#aa4abd" stroke-width="1.3" stroke-linejoin="round" clip-path="url(#cr)"/>
<g>
<path d="M659 186.3 H722.5 a6.5 6.5 0 0 1 6.5 6.5 V209.5 a6.5 6.5 0 0 1 -6.5 6.5 H699.6 L666.4 235 L683.5 216 H659 a6.5 6.5 0 0 1 -6.5 -6.5 V192.8 a6.5 6.5 0 0 1 6.5 -6.5 Z" fill="#388e3c" fill-opacity="0.5"/>
<text x="690.5" y="205.3" font-size="11.2" font-weight="bold" fill="#fff" text-anchor="middle" textLength="55.8" lengthAdjust="spacingAndGlyphs">21-day MA</text>
<path d="M575.7 258.0 H633 L666 235 L639.2 264.6 V282.3 a6.5 6.5 0 0 1 -6.5 6.5 H575.7 a6.5 6.5 0 0 1 -6.5 -6.5 V264.5 a6.5 6.5 0 0 1 6.5 -6.5 Z" fill="#f23645" fill-opacity="0.5"/>
<text x="604" y="277" font-size="11.2" font-weight="bold" fill="#fff" text-anchor="middle" textLength="50" lengthAdjust="spacingAndGlyphs">9-day MA</text>
</g>
<line x1="881.5" y1="207.5" x2="951" y2="207.5" stroke="#388e3c" stroke-width="2"/>
<line x1="881.5" y1="271.3" x2="951" y2="271.3" stroke="#f23645" stroke-width="2"/>
<text x="884" y="204" font-size="12.8" font-weight="bold" fill="#f23645" textLength="64.5" lengthAdjust="spacingAndGlyphs">Resistance</text>
<text x="883.3" y="266.6" font-size="12.8" font-weight="bold" fill="#388e3c" textLength="48.2" lengthAdjust="spacingAndGlyphs">Support</text>
<g stroke="#6a6d78" stroke-width="1.25">
<line x1="951.6" y1="26" x2="951.6" y2="509"/>
<line x1="10" y1="381.8" x2="1014" y2="381.8"/>
<line x1="10" y1="483.3" x2="1014" y2="483.3"/>
</g>
<g font-size="11.6" fill="#33363f">
<text x="960.6" y="77.4" textLength="43.8" lengthAdjust="spacingAndGlyphs">70000.00</text>
<text x="960.6" y="130.9" textLength="43.8" lengthAdjust="spacingAndGlyphs">60000.00</text>
<text x="960.6" y="184.7" textLength="43.8" lengthAdjust="spacingAndGlyphs">50000.00</text>
<text x="960.6" y="345.4" textLength="43.8" lengthAdjust="spacingAndGlyphs">20000.00</text>
<text x="960.6" y="401.6" textLength="26.5" lengthAdjust="spacingAndGlyphs">75.00</text>
<text x="960.6" y="436.2" textLength="26.5" lengthAdjust="spacingAndGlyphs">50.00</text>
<text x="960.6" y="471.2" textLength="26.5" lengthAdjust="spacingAndGlyphs">25.00</text>
</g>
<rect x="951" y="199.6" width="60" height="16.8" fill="#388e3c" rx="1.5"/>
<text x="960.6" y="212.3" font-size="11.6" fill="#fff" textLength="43.8" lengthAdjust="spacingAndGlyphs">45000.00</text>
<rect x="951" y="217.2" width="60" height="15.4" fill="#d7e8d2" rx="1.5"/>
<text x="960.6" y="229.3" font-size="11.6" fill="#131722" textLength="43.8" lengthAdjust="spacingAndGlyphs">39280.75</text>
<rect x="951" y="233.1" width="60" height="29.7" fill="#26a69a" rx="1.5"/>
<text x="960.6" y="244.8" font-size="11.6" fill="#fff" textLength="43.8" lengthAdjust="spacingAndGlyphs">38811.46</text>
<text x="961" y="258.3" font-size="11.6" fill="#d4edea" textLength="40.8" lengthAdjust="spacingAndGlyphs">11:54:58</text>
<rect x="951" y="263.6" width="60" height="15.2" fill="#d7e8d2" rx="1.5"/>
<text x="960.6" y="275.3" font-size="11.6" fill="#131722" textLength="43.8" lengthAdjust="spacingAndGlyphs">37681.88</text>
<rect x="951" y="279.3" width="60" height="16.2" fill="#f23645" rx="1.5"/>
<text x="960.6" y="291.8" font-size="11.6" fill="#fff" textLength="43.8" lengthAdjust="spacingAndGlyphs">33000.00</text>
<rect x="970" y="32" width="26" height="17.4" rx="4" fill="#fff" stroke="#e0e3eb"/>
<text x="973" y="45.2" font-size="11.3" fill="#33363f" textLength="20.2" lengthAdjust="spacingAndGlyphs">USD</text>
<g font-size="11.6" fill="#41444e">
<text x="50.0" y="500" textLength="10.0" lengthAdjust="spacingAndGlyphs">18</text>
<text x="132.4" y="500" textLength="19.1" lengthAdjust="spacingAndGlyphs">Nov</text>
<text x="223.1" y="500" textLength="10.4" lengthAdjust="spacingAndGlyphs">15</text>
<text x="316.9" y="500" textLength="19.5" lengthAdjust="spacingAndGlyphs">Dec</text>
<text x="401.6" y="500" textLength="10.4" lengthAdjust="spacingAndGlyphs">14</text>
<text x="611.2" y="500" textLength="10.4" lengthAdjust="spacingAndGlyphs">17</text>
<text x="700.0" y="500" textLength="18.0" lengthAdjust="spacingAndGlyphs">Feb</text>
<text x="784.3" y="500" textLength="10.4" lengthAdjust="spacingAndGlyphs">14</text>
<text x="872.2" y="500" textLength="19.5" lengthAdjust="spacingAndGlyphs">Mar</text>
<text x="504.7" y="500" font-weight="bold" textLength="26" lengthAdjust="spacingAndGlyphs">2022</text>
</g>
<text x="17.5" y="44.0" font-size="11.5" fill="#3a3d47" textLength="35.9" lengthAdjust="spacingAndGlyphs">Bitcoin</text>
<text x="59.2" y="44.0" font-size="11.5" fill="#3a3d47" textLength="3.7" lengthAdjust="spacingAndGlyphs">/</text>
<text x="68.4" y="44.0" font-size="11.5" fill="#3a3d47" textLength="18.9" lengthAdjust="spacingAndGlyphs">U.S.</text>
<text x="93.2" y="44.0" font-size="11.5" fill="#3a3d47" textLength="30.0" lengthAdjust="spacingAndGlyphs">Dollar,</text>
<text x="128.3" y="44.0" font-size="11.5" fill="#3a3d47" textLength="15.0" lengthAdjust="spacingAndGlyphs">1D,</text>
<text x="147.8" y="44.0" font-size="11.5" fill="#3a3d47" textLength="49.6" lengthAdjust="spacingAndGlyphs">COINBASE</text>
<text x="206.5" y="44.0" font-size="11.5" fill="#3a3d47" textLength="7.2" lengthAdjust="spacingAndGlyphs">O</text>
<text x="214.0" y="44.0" font-size="11.5" fill="#26a69a" textLength="44.5" lengthAdjust="spacingAndGlyphs">38251.67</text>
<text x="267.2" y="44.0" font-size="11.5" fill="#3a3d47" textLength="6.3" lengthAdjust="spacingAndGlyphs">H</text>
<text x="273.5" y="44.0" font-size="11.5" fill="#26a69a" textLength="43.7" lengthAdjust="spacingAndGlyphs">39139.10</text>
<text x="326.7" y="44.0" font-size="11.5" fill="#3a3d47" textLength="4.3" lengthAdjust="spacingAndGlyphs">L</text>
<text x="331.0" y="44.0" font-size="11.5" fill="#26a69a" textLength="44.5" lengthAdjust="spacingAndGlyphs">37555.54</text>
<text x="383.0" y="44.0" font-size="11.5" fill="#3a3d47" textLength="6.7" lengthAdjust="spacingAndGlyphs">C</text>
<text x="389.7" y="44.0" font-size="11.5" fill="#26a69a" textLength="43.3" lengthAdjust="spacingAndGlyphs">38811.46</text>
<text x="441.0" y="44.0" font-size="11.5" fill="#26a69a" textLength="37.5" lengthAdjust="spacingAndGlyphs">+559.98</text>
<text x="484.0" y="44.0" font-size="11.5" fill="#26a69a" textLength="40.0" lengthAdjust="spacingAndGlyphs">(+1.46%)</text>
<text x="17.5" y="59.9" font-size="11.5" fill="#3a3d47" textLength="15.5" lengthAdjust="spacingAndGlyphs">Vol</text>
<text x="39.5" y="59.9" font-size="11.5" fill="#26a69a" textLength="33.0" lengthAdjust="spacingAndGlyphs">6.192K</text>
<text x="17.5" y="76.2" font-size="11.5" fill="#3a3d47" textLength="67.5" lengthAdjust="spacingAndGlyphs">MA (9, close)</text>
<text x="93.0" y="76.2" font-size="11.5" fill="#f44336" textLength="45.0" lengthAdjust="spacingAndGlyphs">40175.14</text>
<text x="17.5" y="92.4" font-size="11.5" fill="#3a3d47" textLength="73.0" lengthAdjust="spacingAndGlyphs">MA (21, close)</text>
<text x="99.0" y="92.4" font-size="11.5" fill="#388e3c" textLength="43.5" lengthAdjust="spacingAndGlyphs">41404.46</text>
<text x="17.5" y="108.4" font-size="11.5" fill="#3a3d47" textLength="15.5" lengthAdjust="spacingAndGlyphs">Vol</text>
<text x="39.5" y="108.4" font-size="11.5" fill="#26a69a" textLength="33.0" lengthAdjust="spacingAndGlyphs">6.192K</text>
<text x="17.7" y="400.6" font-size="11.5" fill="#3a3d47" textLength="14.8" lengthAdjust="spacingAndGlyphs">RSI</text>
<text x="37.2" y="400.6" font-size="11.5" fill="#3a3d47" textLength="17.5" lengthAdjust="spacingAndGlyphs">(14,</text>
<text x="60.0" y="400.6" font-size="11.5" fill="#3a3d47" textLength="30.0" lengthAdjust="spacingAndGlyphs">close)</text>
<text x="98.5" y="400.6" font-size="11.5" fill="#aa4abd" textLength="25.9" lengthAdjust="spacingAndGlyphs">42.92</text>
<g fill="#131722"><path d="M9.6 521.1 H18.7 V530.6 H13.1 V524.7 H9.6 Z"/><circle cx="20.45" cy="523.0" r="1.55"/><path d="M23.3 521.1 H28.2 L24.8 530.6 H19.2 Z"/></g>
<text x="32.2" y="530.7" font-size="12.4" fill="#2e313b" textLength="67.3" lengthAdjust="spacingAndGlyphs">TradingView</text>
</svg></body></html>
